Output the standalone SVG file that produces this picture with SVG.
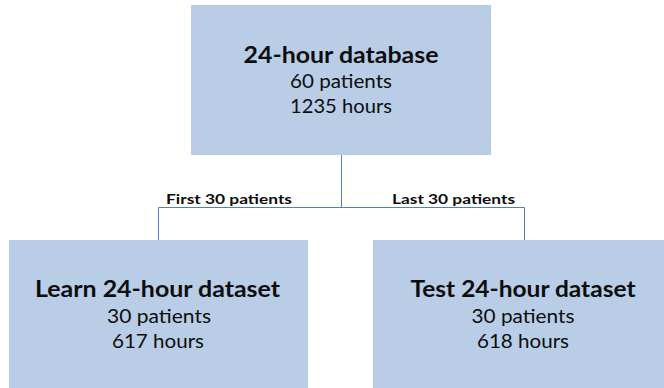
<svg xmlns="http://www.w3.org/2000/svg" width="664" height="388" viewBox="0 0 664 388">
  <style>
    .box { fill: #B9CDE6; }
    .link { fill: none; stroke: #4F81BD; stroke-width: 1; }
    text { font-family: Lato, "Open Sans", "Liberation Sans", sans-serif; fill: #0d0d0d; text-anchor: middle; }
    .title { font-size: 23.5px; font-weight: bold; }
    .sub { font-size: 18.5px; }
    .lbl { font-size: 13.5px; font-weight: bold; text-anchor: start; }
  </style>
  <rect width="664" height="388" fill="#ffffff"/>

  <g id="connectors">
    <path class="link" d="M341.5 155 V207.5 M158.5 240 V207.5 H524.5 V240"/>
    <text class="lbl" x="166" y="204" textLength="126" lengthAdjust="spacingAndGlyphs">First 30 patients</text>
    <text class="lbl" x="392" y="204" textLength="123" lengthAdjust="spacingAndGlyphs">Last 30 patients</text>
  </g>

  <g id="database">
    <rect class="box" x="191" y="5" width="300" height="150"/>
    <text class="title" x="341" y="63" textLength="195" lengthAdjust="spacingAndGlyphs">24-hour database</text>
    <text class="sub" x="341" y="88" textLength="102" lengthAdjust="spacingAndGlyphs">60 patients</text>
    <text class="sub" x="341" y="113" textLength="102" lengthAdjust="spacingAndGlyphs">1235 hours</text>
  </g>

  <g id="learn">
    <rect class="box" x="9" y="240" width="299" height="148"/>
    <text class="title" x="157.5" y="297" textLength="245" lengthAdjust="spacingAndGlyphs">Learn 24-hour dataset</text>
    <text class="sub" x="159" y="323" textLength="104" lengthAdjust="spacingAndGlyphs">30 patients</text>
    <text class="sub" x="158" y="348" textLength="92" lengthAdjust="spacingAndGlyphs">617 hours</text>
  </g>

  <g id="test">
    <rect class="box" x="373" y="240" width="291" height="148"/>
    <text class="title" x="523" y="297" textLength="225" lengthAdjust="spacingAndGlyphs">Test 24-hour dataset</text>
    <text class="sub" x="523" y="323" textLength="103" lengthAdjust="spacingAndGlyphs">30 patients</text>
    <text class="sub" x="523" y="348" textLength="92" lengthAdjust="spacingAndGlyphs">618 hours</text>
  </g>
</svg>
